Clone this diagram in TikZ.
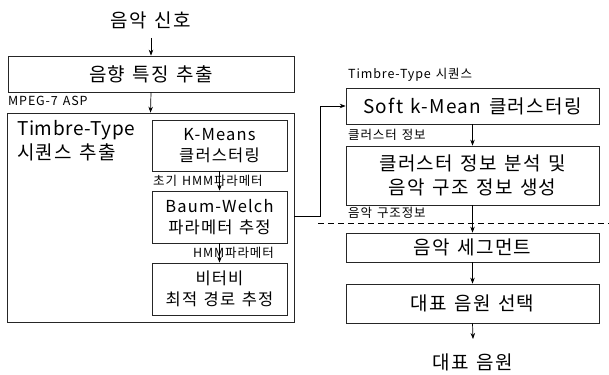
\documentclass[tikz,border=0pt]{standalone}
\usepackage{fontspec}
\setmainfont{Noto Sans CJK KR}[LetterSpace=7, WordSpace=1.35]
\usetikzlibrary{arrows.meta}
\begin{document}
\begin{tikzpicture}[x=1pt,y=-1pt,
  box/.style={draw=black!85, line width=0.7pt, rectangle, inner sep=0pt, align=center},
  big/.style={font=\fontsize{19}{24}\selectfont},
  mid/.style={font=\fontsize{16.5}{21.5}\selectfont},
  lbl/.style={font=\fontsize{12.5}{14}\selectfont, inner sep=0pt},
  arr/.style={line width=0.7pt, -{Stealth[length=6pt,width=4.5pt]}}]
\useasboundingbox (0,0) rectangle (609,374);
% left column
\node[big, inner sep=0pt] (sig) at (151,20) {음악 신호};
\node[box, big, minimum width=286pt, minimum height=36pt] (feat) at (151,74) {음향 특징 추출};
\node[lbl, anchor=west] (mpeg) at (8,101) {MPEG-7 ASP};
\node[box, minimum width=287pt, minimum height=209pt] (tt) at (150.5,217.5) {};
\node[big, anchor=north west, align=left, inner sep=0pt] (ttl) at (17,120) {\addfontfeatures{LetterSpace=3}Timbre-Type\\시퀀스 추출};
\node[box, mid, minimum width=135pt, minimum height=51pt] (km) at (219.5,145.5) {K-Means\\클러스터링};
\node[box, mid, minimum width=135pt, minimum height=52pt] (bw) at (219.5,217) {Baum-Welch\\파라메터 추정};
\node[box, mid, minimum width=135pt, minimum height=52pt] (vt) at (219.5,289) {비터비\\최적 경로 추정};
\node[lbl, anchor=west] (l1) at (153,181) {초기 HMM파라메터};
\node[lbl, anchor=east] (l2) at (274,253) {HMM파라메터};
% right column
\node[lbl, anchor=west] (l3) at (348,75) {Timbre-Type 시퀀스};
\node[box, big, minimum width=253pt, minimum height=36pt] (soft) at (472.5,106) {Soft k-Mean 클러스터링};
\node[lbl, anchor=west] (l4) at (348,135) {클러스터 정보};
\node[box, big, minimum width=253pt, minimum height=59pt] (ana) at (472.5,175.5) {클러스터 정보 분석 및\\음악 구조 정보 생성};
\node[lbl, anchor=west] (l5) at (348,213) {음악 구조정보};
\node[box, big, minimum width=253pt, minimum height=29pt] (seg) at (472.5,247.5) {음악 세그먼트};
\node[box, big, minimum width=253pt, minimum height=39pt] (sel) at (472.5,303.5) {대표 음원 선택};
\node[big, inner sep=0pt] (out) at (473,362) {대표 음원};
\coordinate (d1) at (318,223);
\coordinate (d2) at (609,223);
\draw[line width=1pt, dash pattern=on 6pt off 4pt] (d1) -- (d2);
% arrows
\draw[arr] (sig.south |- 0,38) -- (feat.north);
\draw[arr] (feat.south) -- (tt.north);
\draw[arr] (km.south) -- (bw.north);
\draw[arr] (bw.south) -- (vt.north);
\coordinate (c1) at (320,216);
\draw[arr] (tt.east |- c1) -- (c1) |- (soft.west);
\draw[arr] (soft.south) -- (ana.north);
\draw[arr] (ana.south) -- (seg.north);
\draw[arr] (seg.south) -- (sel.north);
\draw[arr] (sel.south) -- (473,339);
\end{tikzpicture}
\end{document}
